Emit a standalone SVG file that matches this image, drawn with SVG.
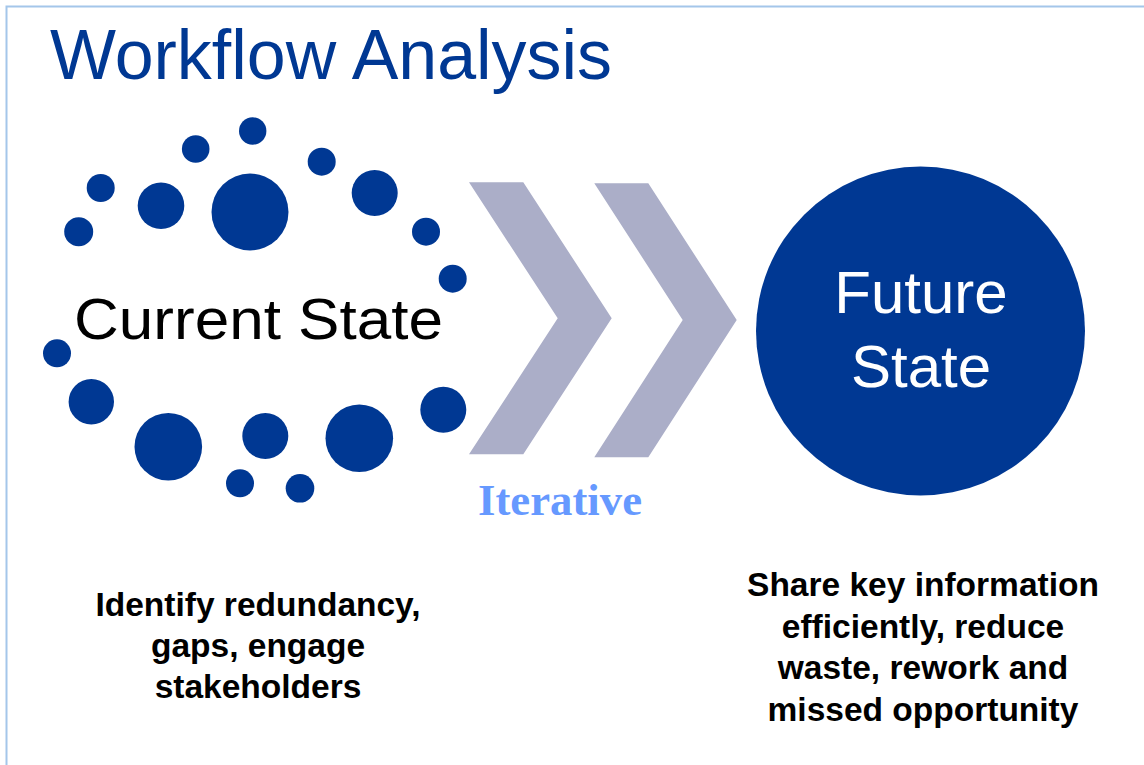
<svg xmlns="http://www.w3.org/2000/svg" width="1144" height="765" viewBox="0 0 1144 765">
<style>
.dot{fill:#003893}
.chev{fill:#ABAEC8}
.title{font-family:"Liberation Sans",Arial,sans-serif;font-size:70px;fill:#003893}
.cur{font-family:"Liberation Sans",Arial,sans-serif;font-size:58px;fill:#000}
.fut{font-family:"Liberation Sans",Arial,sans-serif;font-size:60px;fill:#fff;text-anchor:middle}
.iter{font-family:"Liberation Serif","Times New Roman",serif;font-weight:bold;font-size:45px;fill:#6699FF}
.desc{font-family:"Liberation Sans",Arial,sans-serif;font-weight:bold;font-size:33.5px;fill:#000;text-anchor:middle}
</style>
<rect width="1144" height="765" fill="#fff"/>
<path d="M6.5,765 V6.5 H1144" fill="none" stroke="#A4C6EA" stroke-width="2"/>
<text class="title" x="50" y="79" textLength="562" lengthAdjust="spacingAndGlyphs">Workflow Analysis</text>

<g id="current-state">
<circle class="dot" cx="252.7" cy="131" r="13.7"/>
<circle class="dot" cx="195.7" cy="149" r="13.8"/>
<circle class="dot" cx="100.7" cy="188" r="14"/>
<circle class="dot" cx="78.7" cy="231.7" r="14.5"/>
<circle class="dot" cx="161" cy="205.7" r="23.3"/>
<circle class="dot" cx="250" cy="212" r="38.5"/>
<circle class="dot" cx="321.7" cy="161.7" r="14"/>
<circle class="dot" cx="374.7" cy="193" r="23"/>
<circle class="dot" cx="426" cy="231.7" r="14"/>
<circle class="dot" cx="452.7" cy="278.7" r="14"/>
<circle class="dot" cx="57" cy="353.3" r="14"/>
<circle class="dot" cx="91.3" cy="401.7" r="22.7"/>
<circle class="dot" cx="168.3" cy="446.7" r="33.8"/>
<circle class="dot" cx="265.3" cy="436" r="23"/>
<circle class="dot" cx="359.3" cy="438.3" r="33.8"/>
<circle class="dot" cx="443.3" cy="409.7" r="23"/>
<circle class="dot" cx="240" cy="483.3" r="14"/>
<circle class="dot" cx="300" cy="488.3" r="14.3"/>
<text class="cur" x="74" y="338.7" textLength="369" lengthAdjust="spacingAndGlyphs">Current State</text>
</g>

<g id="connectors">
<polygon class="chev" points="469,182.3 523.3,182.3 611.7,318.3 523.3,454.3 469,454.3 557.7,318.3"/>
<polygon class="chev" points="594.3,183.3 648.3,183.3 736.7,320 648.3,457.3 594.3,457.3 682.7,320"/>
<text class="iter" x="478" y="515" textLength="164" lengthAdjust="spacingAndGlyphs">Iterative</text>
</g>

<g id="future-state">
<circle class="dot" cx="920.5" cy="331" r="164.5"/>
<text class="fut" x="921" y="313.3">Future</text>
<text class="fut" x="921" y="386.7">State</text>
</g>

<g id="current-desc">
<text class="desc" x="258" y="616">Identify redundancy,</text>
<text class="desc" x="258" y="657">gaps, engage</text>
<text class="desc" x="258" y="698">stakeholders</text>
</g>

<g id="future-desc">
<text class="desc" x="923" y="596">Share key information</text>
<text class="desc" x="923" y="637.5">efficiently, reduce</text>
<text class="desc" x="923" y="679">waste, rework and</text>
<text class="desc" x="923" y="720.5">missed opportunity</text>
</g>
</svg>
